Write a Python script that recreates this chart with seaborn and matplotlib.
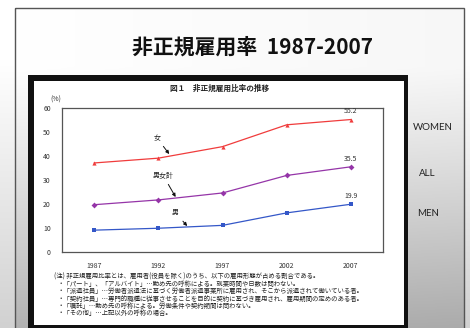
import numpy as np
import pandas as pd
import matplotlib
matplotlib.use("Agg")
import matplotlib.pyplot as plt
import seaborn as sns
from matplotlib.patches import Rectangle

sns.set_style("white")
plt.rcParams['font.family'] = ['Noto Sans CJK JP', 'DejaVu Sans']

# ---- data ----
years = ["1987", "1992", "1997", "2002", "2007"]
women = [37.1, 39.1, 43.9, 53.0, 55.2]
total = [19.7, 21.7, 24.6, 31.9, 35.5]
men = [9.1, 9.9, 11.1, 16.3, 19.9]
series_names = ["女", "男女計", "男"]
right_labels = ["WOMEN", "ALL", "MEN"]
yticks = [0, 10, 20, 30, 40, 50, 60]
title = "非正規雇用率  1987-2007"
chart_title = "図１　非正規雇用比率の推移"
notes = [
    "(注) 非正規雇用比率とは、雇用者(役員を除く)のうち、以下の雇用形態が占める割合である。",
    "・「パート」、「アルバイト」…勤め先の呼称による。就業時間や日数は問わない。",
    "・「派遣社員」…労働者派遣法に基づく労働者派遣事業所に雇用され、そこから派遣されて働いている者。",
    "・「契約社員」…専門的職種に従事させることを目的に契約に基づき雇用され、雇用期間の定めのある者。",
    "・「嘱託」…勤め先の呼称による。労働条件や契約期間は問わない。",
    "・「その他」…上記以外の呼称の場合。",
]

W, H = 470, 328
fig = plt.figure(figsize=(W / 100, H / 100), dpi=100)

# ---- background (pixel coords) ----
bg = fig.add_axes([0, 0, 1, 1])
bg.set_xlim(0, W)
bg.set_ylim(H, 0)
bg.axis("off")
yy = np.linspace(0, 1, 200)[:, None]
xx = np.linspace(0, 1, 200)[None, :]
g = 1 - 0.30 * np.clip((yy * H - 60) / (H - 60), 0, 1) ** 1.1 - 0.03 * xx
bg.imshow(np.dstack([g, g, g]), extent=[15, 464, H, 8], aspect="auto", zorder=0)
g2 = 1 - 0.18 * np.clip((yy * H - 60) / (H - 60), 0, 1) + 0 * xx
bg.imshow(np.dstack([g2, g2, g2]), extent=[0, 15, H, 0], aspect="auto", zorder=0)
bg.imshow(np.dstack([g2, g2, g2]), extent=[464, W, H, 0], aspect="auto", zorder=0)
bg.add_patch(Rectangle((15, 8), 449, 330, fill=False, edgecolor="#555555", lw=1.0, zorder=1))
bg.set_xlim(0, W)
bg.set_ylim(H, 0)
# inner framed image
bg.add_patch(Rectangle((28, 75), 380, 260, facecolor="#111111", edgecolor="none", zorder=2))
bg.add_patch(Rectangle((34, 81), 370, 244, facecolor="white", edgecolor="none", zorder=3))

bg.text(252, 47, title, ha="center", va="center", fontsize=15, fontweight="bold",
        color="#111111", zorder=4)
bg.text(220, 88, chart_title, ha="center", va="center", fontsize=5.5, fontweight="bold",
        color="#222222", zorder=4)
bg.text(56, 100, "(%)", ha="center", va="center", fontsize=5, color="#333333", zorder=4)

for i, line in enumerate(notes):
    x0 = 54 if i == 0 else 58
    bg.text(x0, 277 + i * 7.2, line, ha="left", va="center", fontsize=4.6,
            color="#222222", zorder=4)

for lab, (x, y) in zip(right_labels, [(433, 127), (427, 174), (428, 214)]):
    bg.text(x, y, lab, ha="center", va="center", fontsize=7, color="#222222",
            family=["Lato", "DejaVu Sans"], zorder=4)

# ---- main chart ----
left, right, top, bottom = 62, 383, 108, 252
ax = fig.add_axes([left / W, (H - bottom) / H, (right - left) / W, (bottom - top) / H])
ax.set_zorder(5)

pos = list(range(len(years)))
df = pd.DataFrame({
    "pos": pos * 3,
    "value": women + total + men,
    "series": [series_names[0]] * 5 + [series_names[1]] * 5 + [series_names[2]] * 5,
})
palette = {series_names[0]: "#f03c3c", series_names[1]: "#9535a8", series_names[2]: "#3457c8"}
markers = {series_names[0]: "^", series_names[1]: "D", series_names[2]: "s"}
sns.lineplot(data=df, x="pos", y="value", hue="series", style="series", palette=palette,
             markers=markers, dashes=False, markersize=3.0, markeredgewidth=0,
             linewidth=0.9, legend=False, ax=ax)

ax.set_xlim(-0.5, 4.5)
ax.set_ylim(0, 60)
ax.set_xticks(pos)
ax.set_xticklabels(years)
ax.set_yticks(yticks)
ax.set_xticks([0.5, 1.5, 2.5, 3.5], minor=True)
ax.tick_params(axis="x", which="major", length=0, labelsize=5, colors="#333333", pad=7)
ax.tick_params(axis="x", which="minor", length=2.5, direction="in", color="#555555")
ax.tick_params(axis="y", length=2.5, direction="in", labelsize=5, colors="#333333", pad=8)
ax.set_xlabel("")
ax.set_ylabel("")
for s in ax.spines.values():
    s.set_color("#555555")
    s.set_linewidth(0.9)

# end value labels
for vals, name in zip([women, total, men], series_names):
    ax.annotate(f"{vals[-1]:.1f}", xy=(pos[-1], vals[-1]), xytext=(0, 3.0),
                textcoords="offset points", ha="center", va="bottom", fontsize=5,
                color="#333333")

# series annotations with arrows
ann = [
    (series_names[0], (0.98, 47.5), (1.17, 40.8)),
    (series_names[1], (1.08, 31.7), (1.27, 22.9)),
    (series_names[2], (1.27, 16.3), (1.45, 10.8)),
]
for txt, xyt, xy in ann:
    ax.annotate(txt, xy=xy, xytext=xyt, ha="center", va="center", fontsize=5,
                color="#222222",
                arrowprops=dict(arrowstyle="-|>", color="#111111", lw=0.7,
                                mutation_scale=5, shrinkA=1, shrinkB=0))

fig.savefig("out.png", dpi=100)
